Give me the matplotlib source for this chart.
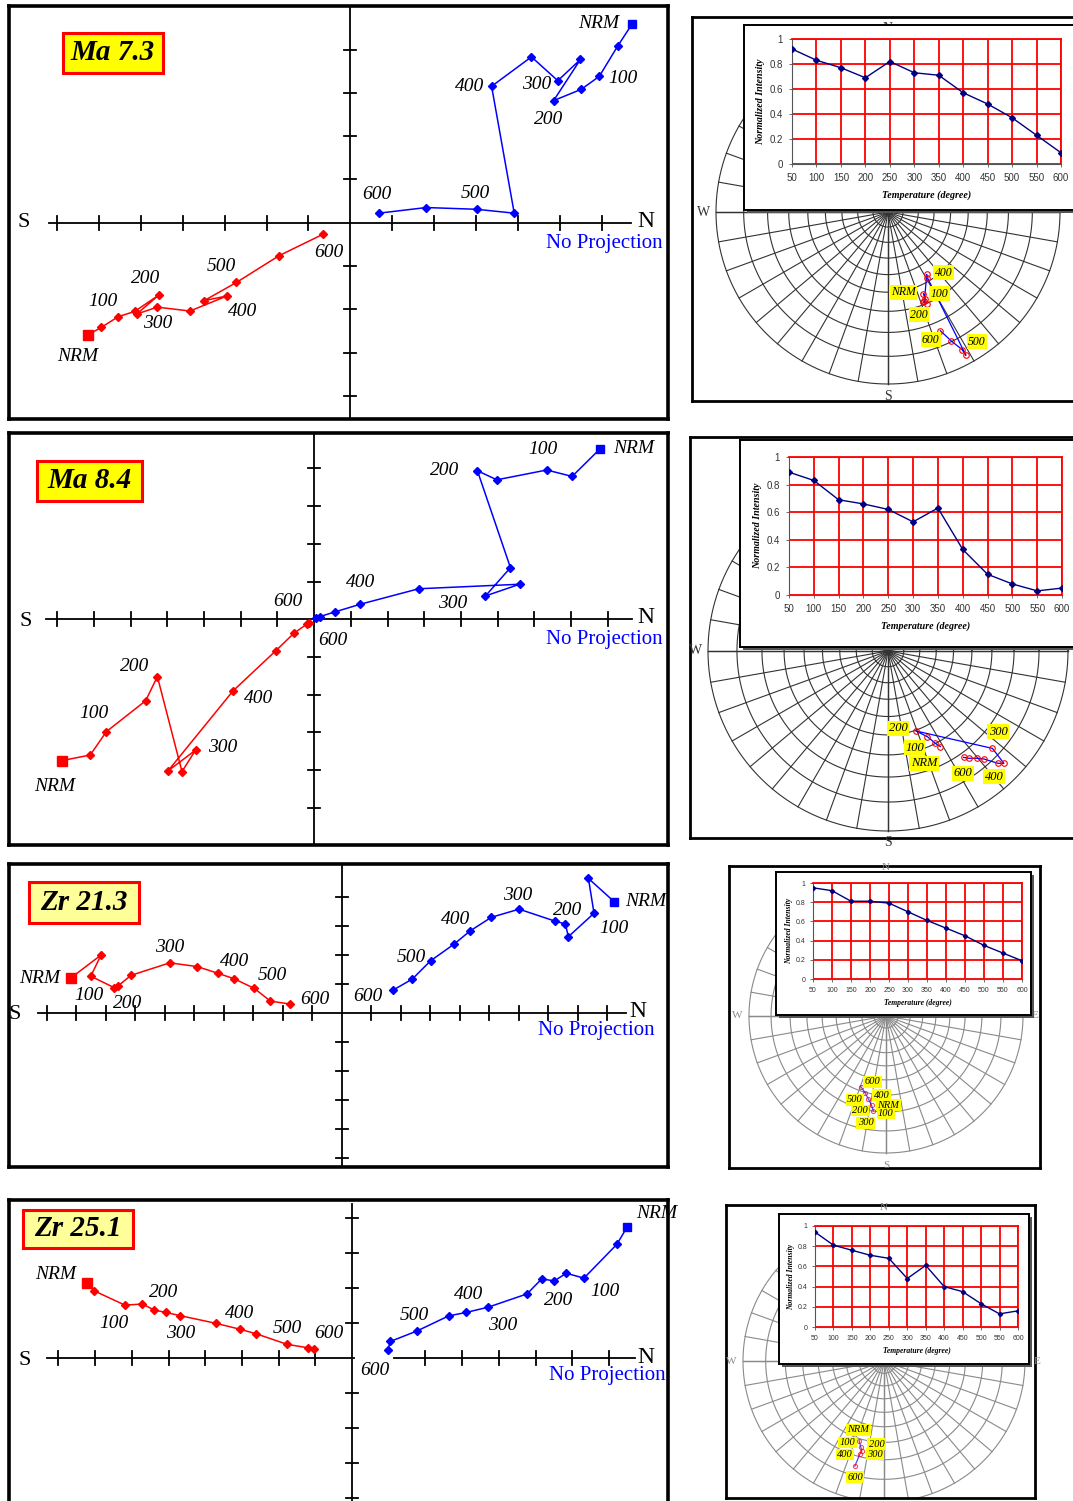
import numpy as np
import matplotlib
matplotlib.use("Agg")
import matplotlib.pyplot as plt
from matplotlib.patches import Rectangle

# ---------------- data ----------------
temps = [50, 100, 150, 200, 250, 300, 350, 400, 450, 500, 550, 600]
titles = ["Ma 7.3", "Ma 8.4", "Zr 21.3", "Zr 25.1"]

# normalized intensity vs. demagnetisation temperature
int_ma73 = [0.92, 0.83, 0.77, 0.69, 0.82, 0.73, 0.71, 0.57, 0.48, 0.37, 0.23, 0.09]
int_ma84 = [0.89, 0.83, 0.69, 0.66, 0.62, 0.53, 0.63, 0.33, 0.15, 0.08, 0.03, 0.05]
int_zr213 = [0.95, 0.92, 0.81, 0.81, 0.79, 0.70, 0.61, 0.53, 0.45, 0.35, 0.27, 0.19]
int_zr251 = [0.94, 0.81, 0.76, 0.71, 0.68, 0.48, 0.61, 0.40, 0.35, 0.23, 0.13, 0.16]

# Zijderveld diagrams (tick units), NRM first then 50..600 steps
ma73_red_x = [-6.26, -5.95, -5.54, -5.15, -4.57, -5.10, -4.61, -3.83, -2.94, -3.49, -2.72, -1.70, -0.66]
ma73_red_y = [-2.59, -2.42, -2.17, -2.05, -1.67, -2.11, -1.95, -2.04, -1.69, -1.80, -1.38, -0.76, -0.27]
ma73_blue_x = [6.73, 6.38, 5.94, 5.51, 4.85, 5.49, 4.95, 4.32, 3.37, 3.91, 3.01, 1.81, 0.68]
ma73_blue_y = [4.60, 4.08, 3.38, 3.08, 2.82, 3.77, 3.28, 3.83, 3.15, 0.22, 0.31, 0.35, 0.22]

ma84_red_x = [-6.88, -6.10, -5.66, -4.59, -4.27, -3.60, -3.23, -3.98, -2.21, -1.05, -0.55, -0.20, -0.15]
ma84_red_y = [-3.75, -3.60, -2.98, -2.16, -1.52, -4.04, -3.47, -4.02, -1.90, -0.84, -0.37, -0.13, -0.09]
ma84_blue_x = [7.79, 7.03, 6.34, 4.98, 4.45, 5.35, 4.67, 5.60, 2.85, 1.26, 0.58, 0.15, 0.06]
ma84_blue_y = [4.52, 3.79, 3.96, 3.70, 3.94, 1.37, 0.62, 0.93, 0.81, 0.40, 0.20, 0.07, 0.03]

zr213_red_x = [-9.17, -8.16, -8.51, -7.71, -7.58, -7.14, -5.83, -4.90, -4.20, -3.65, -2.97, -2.42, -1.77]
zr213_red_y = [1.21, 1.99, 1.26, 0.86, 0.93, 1.29, 1.72, 1.59, 1.36, 1.17, 0.84, 0.40, 0.30]
zr213_blue_x = [9.23, 8.36, 8.55, 7.68, 7.58, 7.22, 6.01, 5.07, 4.35, 3.80, 3.01, 2.39, 1.74]
zr213_blue_y = [3.83, 4.63, 3.43, 2.62, 3.06, 3.16, 3.57, 3.29, 2.82, 2.36, 1.79, 1.16, 0.78]

zr251_red_x = [-7.22, -7.03, -6.19, -5.71, -5.39, -5.07, -4.69, -3.71, -3.05, -2.61, -1.77, -1.20, -1.04]
zr251_red_y = [2.16, 1.93, 1.52, 1.55, 1.38, 1.31, 1.22, 1.00, 0.83, 0.70, 0.40, 0.30, 0.27]
zr251_blue_x = [7.49, 7.22, 6.32, 5.84, 5.51, 5.17, 4.77, 3.71, 3.11, 2.63, 1.77, 1.04, 0.98]
zr251_blue_y = [3.74, 3.26, 2.29, 2.43, 2.21, 2.27, 1.84, 1.46, 1.31, 1.21, 0.78, 0.48, 0.24]

# stereonet directions (projected east / north, fraction of net radius)
ma73_net_x = [0.206, 0.216, 0.206, 0.225, 0.212, 0.225, 0.229, 0.453, 0.431, 0.367, 0.304]
ma73_net_y = [-0.475, -0.506, -0.525, -0.533, -0.515, -0.363, -0.382, -0.833, -0.800, -0.749, -0.690]
ma84_net_x = [0.291, 0.263, 0.219, 0.154, 0.580, 0.644, 0.611, 0.533, 0.496, 0.450, 0.420]
ma84_net_y = [-0.531, -0.513, -0.476, -0.444, -0.541, -0.624, -0.624, -0.600, -0.596, -0.596, -0.591]
zr213_net_x = [-0.093, -0.105, -0.130, -0.154, -0.184]
zr213_net_y = [-0.694, -0.652, -0.603, -0.559, -0.515]
zr251_net_x = [-0.176, -0.164, -0.157, -0.171, -0.207]
zr251_net_y = [-0.566, -0.613, -0.641, -0.660, -0.746]

# step labels: (text, x, y)
ma73_labels = [("NRM", 5.92, 4.60), ("100", 6.51, 3.32), ("200", 4.74, 2.38), ("300", 4.44, 3.20),
               ("400", 2.84, 3.15), ("500", 2.98, 0.68), ("600", 0.63, 0.65),
               ("NRM", -6.50, -3.08), ("100", -5.90, -1.82), ("200", -4.88, -1.28), ("300", -4.59, -2.32),
               ("400", -2.57, -2.04), ("500", -3.08, -1.02), ("600", -0.51, -0.68)]
ma84_labels = [("NRM", 8.70, 4.54), ("100", 6.24, 4.50), ("200", 3.55, 3.96), ("300", 3.78, 0.41),
               ("400", 1.26, 0.98), ("600", -0.72, 0.47),
               ("600", 0.52, -0.55), ("200", -4.88, -1.24), ("100", -5.99, -2.50), ("400", -1.51, -2.10),
               ("300", -2.48, -3.40), ("NRM", -7.06, -4.44)]
zr213_labels = [("NRM", -10.25, 1.18), ("100", -8.58, 0.61), ("200", -7.25, 0.32), ("300", -5.84, 2.24),
                ("400", -3.65, 1.78), ("500", -2.36, 1.30), ("600", -0.91, 0.44),
                ("NRM", 10.29, 3.83), ("100", 9.23, 2.91), ("200", 7.65, 3.54), ("300", 5.97, 4.03),
                ("400", 3.87, 3.20), ("500", 2.35, 1.90), ("600", 0.87, 0.55)]
zr251_labels = [("NRM", -8.06, 2.38), ("100", -6.49, 1.00), ("200", -5.13, 1.88), ("300", -4.67, 0.71),
                ("400", -3.05, 1.27), ("500", -1.77, 0.86), ("600", -0.62, 0.71),
                ("NRM", 8.29, 4.14), ("100", 6.89, 1.90), ("200", 5.63, 1.64), ("300", 4.10, 0.95),
                ("400", 3.17, 1.83), ("500", 1.70, 1.22), ("600", 0.62, -0.35)]

ma73_net_labels = [("400", 0.324, -0.353), ("NRM", 0.088, -0.467), ("100", 0.300, -0.476),
                   ("200", 0.180, -0.598), ("600", 0.249, -0.743), ("500", 0.516, -0.755)]
ma84_net_labels = [("200", 0.056, -0.430), ("100", 0.148, -0.537), ("NRM", 0.200, -0.624),
                   ("300", 0.611, -0.448), ("600", 0.417, -0.680), ("400", 0.589, -0.698)]
zr213_net_labels = [("600", -0.098, -0.480), ("400", -0.032, -0.578), ("500", -0.228, -0.613),
                    ("NRM", 0.017, -0.652), ("200", -0.191, -0.689), ("100", 0.000, -0.711),
                    ("300", -0.150, -0.779)]
zr251_net_labels = [("NRM", -0.181, -0.488), ("100", -0.258, -0.577), ("200", -0.054, -0.589),
                    ("400", -0.275, -0.664), ("300", -0.063, -0.660), ("600", -0.204, -0.824)]

# ---------------- figure ----------------
W, H = 1073, 1501
fig = plt.figure(figsize=(W / 100, H / 100), dpi=100)
fig.patch.set_facecolor("white")
SERIF = "Liberation Serif"
SANS = "Liberation Sans"


def px_axes(x0, y0, x1, y1, z=0):
    ax = fig.add_axes([x0 / W, 1 - y1 / H, (x1 - x0) / W, (y1 - y0) / H])
    ax.set_zorder(z)
    return ax


def zijderveld(p, red_x, red_y, blue_x, blue_y, labels, title):
    x0, y0, x1, y1 = p["box"]
    cx, cy = p["centre"]
    ux, uy = p["unit"]
    ax = px_axes(x0, y0, x1, y1)
    ax.set_xlim((x0 - cx) / ux, (x1 - cx) / ux)
    ax.set_ylim((cy - y1) / uy, (cy - y0) / uy)
    ax.set_xticks([])
    ax.set_yticks([])
    for s in ax.spines.values():
        s.set_linewidth(2.6)
    ylo, yhi = ax.get_ylim()
    for a, b in p["haxis"]:
        ax.plot([a, b], [0, 0], color="black", lw=1.3)
    ax.plot([0, 0], [ylo, p.get("vtop", yhi)], color="black", lw=1.3)
    for t in p["hticks"]:
        ax.plot([t, t], [-7 / uy, 7 / uy], color="black", lw=1.3)
    for t in p["vticks"]:
        ax.plot([-6 / ux, 6 / ux], [t, t], color="black", lw=1.3)

    ax.plot(red_x, red_y, color="#ff0000", lw=1.1, marker="D", ms=4.5, zorder=3)
    ax.plot(red_x[0], red_y[0], color="#ff0000", marker="s", ms=6.5, zorder=4)
    ax.plot(blue_x, blue_y, color="#0000ff", lw=1.1, marker="D", ms=4.5, zorder=3)
    ax.plot(blue_x[0], blue_y[0], color="#0000ff", marker="s", ms=6, zorder=4)

    for txt, x, y in labels:
        ax.text(x, y, txt, fontsize=14, style="italic", family=SERIF,
                ha="center", va="center", zorder=5)
    sx, sy = p["S"]
    ax.text(sx, sy, "S", fontsize=16, family=SERIF, ha="center", va="center")
    nx, ny = p["N"]
    ax.text(nx, ny, "N", fontsize=17, family=SERIF, ha="center", va="center")
    px_, py_ = p["noproj"]
    ax.text(px_, py_, "No Projection", fontsize=15, family=SERIF, color="#0000ff",
            ha="center", va="center")

    # sample name box
    bx0, by0, bx1, by1 = p["title_box"]
    fig.add_artist(Rectangle((bx0 / W, 1 - by1 / H), (bx1 - bx0) / W, (by1 - by0) / H,
                             transform=fig.transFigure, facecolor=p["title_fill"],
                             edgecolor="#ff0000", lw=2.2, zorder=5))
    fig.text((bx0 + bx1) / 2 / W, 1 - (by0 + by1) / 2 / H, title, fontsize=21,
             weight="bold", style="italic", family=SERIF, ha="center", va="center", zorder=6)


def net_panel(p, temps, inten, net_x, net_y, net_labels):
    x0, y0, x1, y1 = p["box"]
    cx, cy = p["centre"]
    R = p["R"]
    gc = p["grid"]
    ax = px_axes(x0, y0, x1, y1, z=1)
    ax.set_xlim((x0 - cx) / R, (x1 - cx) / R)
    ax.set_ylim((cy - y1) / R, (cy - y0) / R)
    ax.set_xticks([])
    ax.set_yticks([])
    for s in ax.spines.values():
        s.set_linewidth(2.0)
    th = np.linspace(0, 2 * np.pi, 361)
    for inc in range(0, 90, 10):
        r = np.tan(np.radians(90 - inc) / 2)
        ax.plot(r * np.cos(th), r * np.sin(th), color=gc, lw=0.8)
    for az in range(0, 360, 10):
        a = np.radians(az)
        ax.plot([0, np.sin(a)], [0, np.cos(a)], color=gc, lw=0.8)
    ax.plot([-1, 1], [0, 0], color=gc, lw=1.0)
    ax.plot([0, 0], [-1, 1], color=gc, lw=1.0)
    off = 12 / R
    fs = p["fs_dir"]
    dir_pos = {"W": (-1 - off, 0), "E": (1 + off, 0), "S": (0, -1 - off), "N": (0, 1 + off)}
    for d in p["dirs"]:
        ax.text(*dir_pos[d], d, fontsize=fs, family=SERIF, color=gc, ha="center", va="center")

    ax.plot(net_x, net_y, color="#0000ff", lw=0.9, marker="o", mfc="none", mec="#ff0000",
            ms=p["ms"], mew=0.8, alpha=p["alpha"], zorder=4)
    for txt, x, y in net_labels:
        ax.text(x, y, txt, fontsize=p["fs_net"], style="italic", family=SERIF,
                ha="center", va="center", zorder=5,
                bbox=dict(facecolor="#ffff00", edgecolor="none", pad=1.0))

    # inset frame with a small drop shadow
    fx0, fy0, fx1, fy1 = p["frame"]
    axs = px_axes(fx0 + 3, fy0 + 3, fx1 + 3, fy1 + 3, z=2)
    axs.set_facecolor("#555555")
    axs.set_xticks([])
    axs.set_yticks([])
    for s in axs.spines.values():
        s.set_visible(False)
    axf = px_axes(fx0, fy0, fx1, fy1, z=2)
    axf.set_facecolor("white")
    axf.set_xticks([])
    axf.set_yticks([])
    for s in axf.spines.values():
        s.set_linewidth(1.4)

    # intensity plot
    qx0, qy0, qx1, qy1 = p["plot"]
    axp = px_axes(qx0, qy0, qx1, qy1, z=3)
    axp.set_facecolor("white")
    axp.set_xlim(50, 600)
    axp.set_ylim(0, 1)
    axp.set_xticks(temps)
    axp.set_yticks([0, 0.2, 0.4, 0.6, 0.8, 1.0])
    axp.set_yticklabels(["0", "0.2", "0.4", "0.6", "0.8", "1"])
    axp.grid(True, color="#ff0000", lw=1.3)
    axp.set_axisbelow(True)
    for side in ["top", "right"]:
        axp.spines[side].set_color("#ff0000")
        axp.spines[side].set_linewidth(1.3)
    for side in ["left", "bottom"]:
        axp.spines[side].set_color("#555555")
        axp.spines[side].set_linewidth(0.8)
    axp.tick_params(labelsize=p["fs_tick"], length=2.5, width=0.6, color="#555555",
                    pad=p["pad"], labelcolor="#333333")
    for lab in axp.get_xticklabels() + axp.get_yticklabels():
        lab.set_family(SANS)
    axp.plot(temps, inten, color="#000080", lw=1.0, marker="D", ms=p["ms_int"], zorder=3)
    axp.set_xlabel("Temperature (degree)", fontsize=p["fs_lab"], weight="bold",
                   style="italic", family=SERIF, labelpad=p["xpad"])
    axp.set_ylabel("Normalized Intensity", fontsize=p["fs_lab"], weight="bold",
                   style="italic", family=SERIF, labelpad=p["ypad"])


# ---------------- layout (pixel geometry) ----------------
zij_layout = [
    dict(box=(9, 6, 668, 419), centre=(350.4, 222.7), unit=(41.9, 43.3),
         haxis=[(-7.2, 6.7)], hticks=[t for t in range(-7, 7) if t != 0],
         vticks=[t for t in range(-4, 5) if t != 0],
         S=(-7.8, 0.0), N=(7.05, 0.03), noproj=(6.07, -0.47),
         title_box=(63, 33, 163, 73), title_fill="#ffff00"),
    dict(box=(9, 433, 668, 845), centre=(314.1, 619.3), unit=(36.7, 37.7),
         haxis=[(-7.3, 8.66)], hticks=[t for t in range(-7, 9) if t != 0],
         vticks=[t for t in range(-6, 5) if t != 0],
         S=(-7.87, -0.05), N=(9.03, 0.05), noproj=(7.91, -0.53),
         title_box=(37, 461, 142, 501), title_fill="#ffff00"),
    dict(box=(9, 864, 668, 1167), centre=(341.8, 1012.7), unit=(29.5, 29.0),
         haxis=[(-10.3, 9.64)], hticks=[t for t in range(-10, 10) if t != 0],
         vticks=[t for t in range(-5, 5) if t != 0],
         S=(-11.09, -0.05), N=(10.03, 0.05), noproj=(8.62, -0.62),
         title_box=(29, 882, 139, 923), title_fill="#ffff99"),
    dict(box=(9, 1200, 668, 1504), centre=(352.0, 1358.3), unit=(36.7, 35.0),
         haxis=[(-8.32, 0.06), (1.14, 7.72)], hticks=[t for t in range(-8, 8) if t not in (0, 1)],
         vticks=[t for t in range(-4, 5) if t != 0], vtop=4.4,
         S=(-8.92, -0.05), N=(8.02, 0.03), noproj=(6.95, -0.50),
         title_box=(23, 1210, 133, 1248), title_fill="#ffff99"),
]

net_layout = [
    dict(box=(692, 17, 1082, 401), centre=(888, 212), R=172, grid="#333333",
         frame=(744, 25, 1090, 210), plot=(792, 39, 1061, 164), dirs="WSN",
         fs_tick=7, fs_lab=7.2, fs_net=8.5, fs_dir=10, ms=4, ms_int=3, alpha=1.0,
         pad=4, xpad=5, ypad=3),
    dict(box=(690, 437, 1082, 838), centre=(888, 651), R=180, grid="#333333",
         frame=(740, 440, 1090, 647), plot=(789, 457, 1062, 595), dirs="WSN",
         fs_tick=7, fs_lab=7.2, fs_net=9, fs_dir=10, ms=4, ms_int=3, alpha=1.0,
         pad=4, xpad=5, ypad=3),
    dict(box=(729, 866, 1040, 1168), centre=(886, 1016), R=137, grid="#8a8a8a",
         frame=(776, 872, 1031, 1015), plot=(813, 883, 1022, 979), dirs="WESN",
         fs_tick=5, fs_lab=5.5, fs_net=7.5, fs_dir=8, ms=3, ms_int=2.2, alpha=0.7,
         pad=3, xpad=4, ypad=2),
    dict(box=(726, 1205, 1035, 1498), centre=(884, 1361), R=141, grid="#8a8a8a",
         frame=(779, 1214, 1029, 1364), plot=(815, 1226, 1018, 1327), dirs="WEN",
         fs_tick=5, fs_lab=5.5, fs_net=7.5, fs_dir=8, ms=3, ms_int=2.2, alpha=0.7,
         pad=3, xpad=4, ypad=2),
]

zij_data = [
    (ma73_red_x, ma73_red_y, ma73_blue_x, ma73_blue_y, ma73_labels),
    (ma84_red_x, ma84_red_y, ma84_blue_x, ma84_blue_y, ma84_labels),
    (zr213_red_x, zr213_red_y, zr213_blue_x, zr213_blue_y, zr213_labels),
    (zr251_red_x, zr251_red_y, zr251_blue_x, zr251_blue_y, zr251_labels),
]
net_data = [
    (int_ma73, ma73_net_x, ma73_net_y, ma73_net_labels),
    (int_ma84, ma84_net_x, ma84_net_y, ma84_net_labels),
    (int_zr213, zr213_net_x, zr213_net_y, zr213_net_labels),
    (int_zr251, zr251_net_x, zr251_net_y, zr251_net_labels),
]

for i in range(4):
    rx, ry, bx, by, labs = zij_data[i]
    zijderveld(zij_layout[i], rx, ry, bx, by, labs, titles[i])
    inten, nx, ny, nlabs = net_data[i]
    net_panel(net_layout[i], temps, inten, nx, ny, nlabs)

fig.savefig("out.png", dpi=100)
